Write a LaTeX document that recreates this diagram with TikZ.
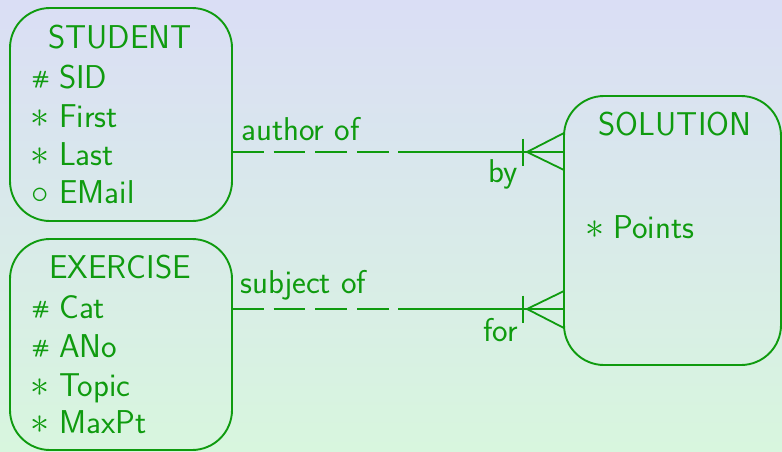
\RequirePackage{fix-cm}
\documentclass[tikz,border=0pt]{standalone}
\usepackage{fontspec}
\usepackage{graphicx}
\definecolor{erg}{RGB}{15,155,15}
\definecolor{bgtop}{RGB}{218,222,245}
\definecolor{bgbot}{RGB}{216,246,222}
\newcommand{\hashsym}{\raisebox{3.6pt}{\scalebox{0.6}[0.58]{\bfseries\#}}}
\newcommand{\astsym}{\scalebox{1.15}{$\ast$}}
\newcommand{\circsym}{\scalebox{1.05}{$\circ$}}
\tikzset{
  ent/.style={draw=erg, line width=1.9pt, rounded corners=40pt, inner sep=0pt, outer sep=0pt},
  txt/.style={text=erg, inner sep=0pt, font=\fontsize{33}{40}\selectfont\sffamily},
  sym/.style={txt, anchor=base west},
  att/.style={txt, anchor=base west},
  rel/.style={draw=erg, line width=1.8pt},
  reldash/.style={rel, dash pattern=on 31.7pt off 10pt}
}
\begin{document}
\begin{tikzpicture}[x=1pt,y=-1pt]
\shade[top color=bgtop, bottom color=bgbot] (0,0) rectangle (782,451);
\useasboundingbox (0,0) rectangle (782,451);
% entity boxes
\node[ent, minimum width=222pt, minimum height=213pt] (stu) at (121,114.5) {};
\node[ent, minimum width=222pt, minimum height=211pt] (exe) at (121,344.5) {};
\node[ent, minimum width=217pt, minimum height=269pt] (sol) at (672.5,230.5) {};
% STUDENT
\node[txt, anchor=base] (stut) at (120,48) {STUDENT};
\node[sym] (s1s) at (31.5,88) {\hashsym};
\node[att] (s1) at (59,88) {SID};
\node[sym] (s2s) at (30.5,127) {\astsym};
\node[att] (s2) at (59,127) {First};
\node[sym] (s3s) at (30.5,165) {\astsym};
\node[att] (s3) at (59,165) {Last};
\node[sym] (s4s) at (31,203) {\circsym};
\node[att] (s4) at (59,203) {EMail};
% EXERCISE
\node[txt, anchor=base] (exet) at (120,278) {EXERCISE};
\node[sym] (e1s) at (31.5,318) {\hashsym};
\node[att] (e1) at (59,318) {Cat};
\node[sym] (e2s) at (31.5,357) {\hashsym};
\node[att] (e2) at (59,357) {ANo};
\node[sym] (e3s) at (30.5,396) {\astsym};
\node[att] (e3) at (59,396) {Topic};
\node[sym] (e4s) at (30.5,433) {\astsym};
\node[att] (e4) at (59,433) {MaxPt};
% SOLUTION
\node[txt, anchor=base] (solt) at (675,135) {SOLUTION};
\node[sym] (p1s) at (585.5,238) {\astsym};
\node[att] (p1) at (613,238) {Points};
% relationship author/by
\coordinate (am) at (398,152);
\coordinate (ab) at (523,152);
\coordinate (af) at (527,152);
\coordinate (au) at (564,133);
\coordinate (ad) at (564,170);
\draw[reldash] (stu.east |- am) -- (am);
\draw[rel] (am) -- (sol.west |- am);
\draw[rel] ([yshift=13.5pt]ab) -- ([yshift=-13.5pt]ab);
\draw[rel] (sol.west |- au) -- (af) -- (sol.west |- ad);
\node[txt, anchor=base west] (aul) at (241,140) {author of};
\node[txt, anchor=base east] (byl) at (518,182) {by};
% relationship subject/for
\coordinate (sm) at (398,309);
\coordinate (sb) at (523,309);
\coordinate (sf) at (527,309);
\coordinate (su) at (564,291);
\coordinate (sd) at (564,328);
\draw[reldash] (exe.east |- sm) -- (sm);
\draw[rel] (sm) -- (sol.west |- sm);
\draw[rel] ([yshift=13.5pt]sb) -- ([yshift=-13.5pt]sb);
\draw[rel] (sol.west |- su) -- (sf) -- (sol.west |- sd);
\node[txt, anchor=base west] (sul) at (240,293) {subject of};
\node[txt, anchor=base east] (forl) at (518,341) {for};
\end{tikzpicture}
\end{document}
